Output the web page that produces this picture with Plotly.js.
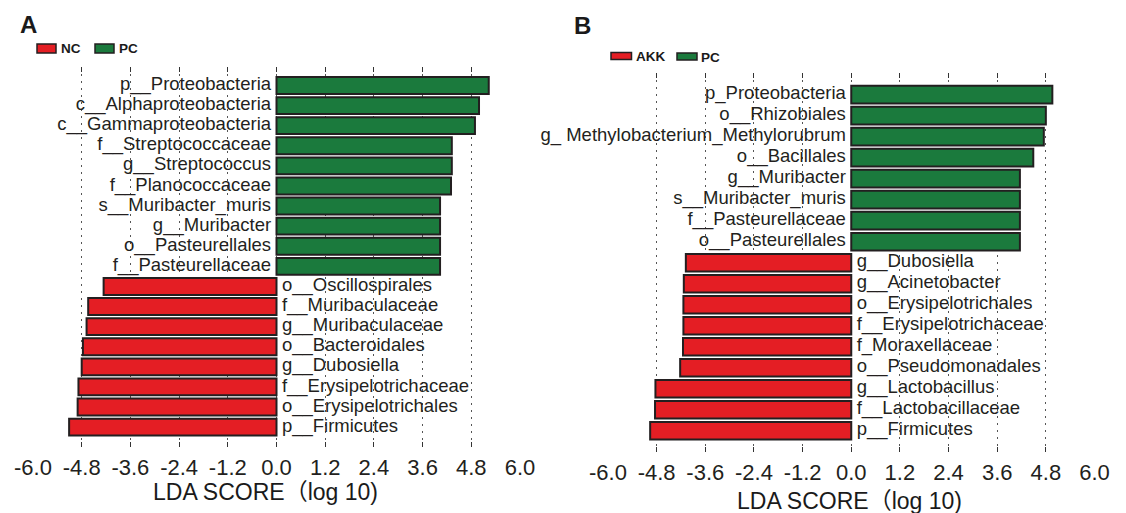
<!DOCTYPE html>
<html>
<head>
<meta charset="utf-8">
<script src="https://cdn.plot.ly/plotly-3.0.1.min.js"></script>
<style>html,body{margin:0;padding:0;background:#fff;}#chart{width:1126px;height:513px;}</style>
</head>
<body>
<div id="chart"></div>
<script>
// ---------- data ----------
const A_PC_taxa = ['p__Proteobacteria','c__Alphaproteobacteria','c__Gammaproteobacteria','f__Streptococcaceae','g__Streptococcus','f__Planococcaceae','s__Muribacter_muris','g__Muribacter','o__Pasteurellales','f__Pasteurellaceae'];
const A_PC_lda  = [5.23, 4.99, 4.89, 4.32, 4.32, 4.30, 4.03, 4.03, 4.03, 4.03];
const A_NC_taxa = ['o__Oscillospirales','f__Muribaculaceae','g__Muribaculaceae','o__Bacteroidales','g__Dubosiella','f__Erysipelotrichaceae','o__Erysipelotrichales','p__Firmicutes'];
const A_NC_lda  = [-4.26, -4.64, -4.68, -4.77, -4.80, -4.88, -4.90, -5.11];

const B_PC_taxa  = ['p_Proteobacteria','o__Rhizobiales','g_ Methylobacterium_Methylorubrum','o__Bacillales','g__Muribacter','s__Muribacter_muris','f__Pasteurellaceae','o__Pasteurellales'];
const B_PC_lda   = [4.96, 4.80, 4.75, 4.49, 4.16, 4.16, 4.16, 4.16];
const B_AKK_taxa = ['g__Dubosiella','g__Acinetobacter','o__Erysipelotrichales','f__Erysipelotrichaceae','f_Moraxellaceae','o__Pseudomonadales','g__Lactobacillus','f__Lactobacillaceae','p__Firmicutes'];
const B_AKK_lda  = [-4.08, -4.13, -4.14, -4.14, -4.15, -4.22, -4.83, -4.84, -4.96];

const xTicks = [-6.0, -4.8, -3.6, -2.4, -1.2, 0.0, 1.2, 2.4, 3.6, 4.8, 6.0];
const xTickText = ['-6.0','-4.8','-3.6','-2.4','-1.2','0.0','1.2','2.4','3.6','4.8','6.0'];
const axisTitle = 'LDA SCORE（log 10)';
const groupsA = ['NC','PC'];
const groupsB = ['AKK','PC'];

// ---------- style ----------
const W = 1126, H = 513;
const RED = '#E41E24', GREEN = '#1B7A3D', EDGE = '#231F20', INK = '#231F20';
const FONT = '"Liberation Sans", Arial, "Noto Sans CJK SC", sans-serif';
const px = v => v / W;
const py = v => 1 - v / H;

function barTrace(taxa, vals, color, xa, ya, name) {
  return {type:'bar', orientation:'h', x: vals, y: taxa, name: name,
    marker:{color: color, line:{color: EDGE, width: 2}}, width: 0.84,
    xaxis: xa, yaxis: ya, hoverinfo:'x+y', showlegend:false};
}
function labelTrace(taxa, vals, xa, ya) {
  return {type:'scatter', mode:'markers+text', x: vals.map(() => 0), y: taxa, text: taxa,
    textposition: vals.map(v => v >= 0 ? 'middle left' : 'middle right'),
    textfont:{family: FONT, size: 18.5, color: INK},
    marker:{size: 7, opacity: 0}, cliponaxis:false,
    xaxis: xa, yaxis: ya, hoverinfo:'skip', showlegend:false};
}

const catsA = A_PC_taxa.concat(A_NC_taxa);
const catsB = B_PC_taxa.concat(B_AKK_taxa);

const data = [
  barTrace(A_PC_taxa, A_PC_lda, GREEN, 'x', 'y', groupsA[1]),
  barTrace(A_NC_taxa, A_NC_lda, RED, 'x', 'y', groupsA[0]),
  labelTrace(catsA, A_PC_lda.concat(A_NC_lda), 'x', 'y'),
  barTrace(B_PC_taxa, B_PC_lda, GREEN, 'x2', 'y2', groupsB[1]),
  barTrace(B_AKK_taxa, B_AKK_lda, RED, 'x2', 'y2', groupsB[0]),
  labelTrace(catsB, B_PC_lda.concat(B_AKK_lda), 'x2', 'y2')
];

function xAxis(domain, anchor) {
  return {domain: domain, anchor: anchor, range:[-6, 6], tickmode:'array', tickvals: xTicks, ticktext: xTickText,
    showgrid:true, gridcolor:'#555', griddash:'2px,5px', gridwidth:1, zeroline:false, showline:false,
    ticks:'inside', ticklen:5, tickwidth:1, tickcolor:'#333', mirror:'ticks',
    tickfont:{family: FONT, size: 22, color: INK}, ticklabelstandoff: 5, fixedrange:true};
}
function yAxis(domain, anchor, cats, range) {
  return {domain: domain, anchor: anchor, type:'category', categoryorder:'array', categoryarray: cats,
    range: range, showticklabels:false, showgrid:false, zeroline:false, showline:false, ticks:'', fixedrange:true};
}

const annFont = (s, bold) => ({family: FONT, size: s, color: '#1a1a1a', weight: bold ? 'bold' : 'normal'});
const annotations = [
  {xref:'paper', yref:'paper', x: px(28), y: py(24), text:'<b>A</b>', showarrow:false, xanchor:'center', yanchor:'middle', font: annFont(24, true)},
  {xref:'paper', yref:'paper', x: px(582), y: py(25), text:'<b>B</b>', showarrow:false, xanchor:'center', yanchor:'middle', font: annFont(24, true)},
  {xref:'paper', yref:'paper', x: px(59), y: py(48.5), text:'<b>'+groupsA[0]+'</b>', showarrow:false, xanchor:'left', yanchor:'middle', font: annFont(13.5, true)},
  {xref:'paper', yref:'paper', x: px(117), y: py(48.5), text:'<b>'+groupsA[1]+'</b>', showarrow:false, xanchor:'left', yanchor:'middle', font: annFont(13.5, true)},
  {xref:'paper', yref:'paper', x: px(634), y: py(56), text:'<b>'+groupsB[0]+'</b>', showarrow:false, xanchor:'left', yanchor:'middle', font: annFont(13.5, true)},
  {xref:'paper', yref:'paper', x: px(699), y: py(57.5), text:'<b>'+groupsB[1]+'</b>', showarrow:false, xanchor:'left', yanchor:'middle', font: annFont(13.5, true)},
  {xref:'paper', yref:'paper', x: px(265.5), y: py(492), text: axisTitle, showarrow:false, xanchor:'center', yanchor:'middle', font: annFont(23, false)},
  {xref:'paper', yref:'paper', x: px(849), y: py(501), text: axisTitle, showarrow:false, xanchor:'center', yanchor:'middle', font: annFont(23, false)}
];
const box = (x0, x1, y0, y1, c) => ({type:'rect', xref:'paper', yref:'paper', x0: px(x0), x1: px(x1), y0: py(y1), y1: py(y0),
  fillcolor: c, line:{color: EDGE, width: 1.5}});
const shapes = [
  box(37, 56, 44, 53, RED), box(95, 114, 44, 53, GREEN),
  box(611, 631.5, 52.5, 59.5, RED), box(677, 697, 53, 60, GREEN)
];

const layout = {
  width: W, height: H, margin:{l:0, r:0, t:0, b:0}, paper_bgcolor:'#fff', plot_bgcolor:'#fff',
  barmode:'relative', showlegend:false, font:{family: FONT, color: INK},
  xaxis: xAxis([px(33), px(520)], 'y'),
  yaxis: yAxis([py(447), py(67)], 'x', catsA, [17.99, -0.92]),
  xaxis2: xAxis([px(608), px(1094.5)], 'y2'),
  yaxis2: yAxis([py(452), py(73)], 'x2', catsB, [17.01, -1.03]),
  annotations: annotations, shapes: shapes
};

Plotly.newPlot('chart', data, layout, {displayModeBar:false, staticPlot:true});
</script>
</body>
</html>
